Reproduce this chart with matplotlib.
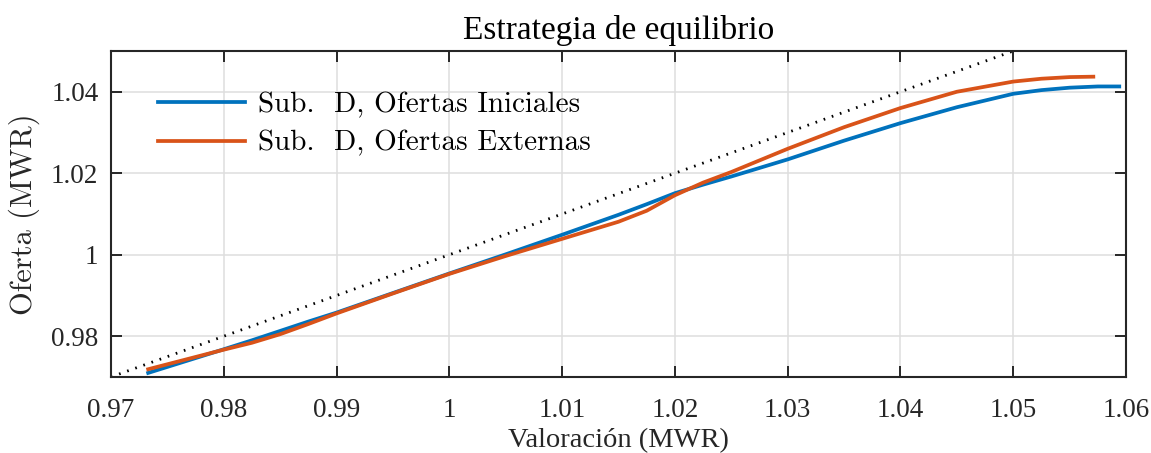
import matplotlib
matplotlib.use("Agg")
import matplotlib.pyplot as plt

# blue: Sub. D, Ofertas Iniciales
x_ini = [0.9733, 0.98, 0.9825, 0.985, 0.9875, 0.99, 0.995, 1.00, 1.005, 1.01, 1.015,
         1.0175, 1.02, 1.0225, 1.025, 1.03, 1.035, 1.04, 1.045, 1.05, 1.0525, 1.055,
         1.0575, 1.0594]
y_ini = [0.9710, 0.9768, 0.9790, 0.9813, 0.9836, 0.9858, 0.9906, 0.9954, 1.0001, 1.0049, 1.0098,
         1.0124, 1.0151, 1.0172, 1.0192, 1.0234, 1.0280, 1.0323, 1.0362, 1.0395, 1.0404, 1.0410,
         1.0413, 1.0413]

# orange: Sub. D, Ofertas Externas
x_ext = [0.9733, 0.98, 0.9825, 0.985, 0.9875, 0.99, 0.995, 1.00, 1.005, 1.01, 1.015,
         1.0175, 1.02, 1.0225, 1.025, 1.03, 1.035, 1.04, 1.045, 1.05, 1.0525, 1.055, 1.0571]
y_ext = [0.9719, 0.9767, 0.9784, 0.9805, 0.9830, 0.9856, 0.9905, 0.9953, 0.9997, 1.0039, 1.0081,
         1.0108, 1.0146, 1.0177, 1.0203, 1.0260, 1.0313, 1.0360, 1.0400, 1.0425, 1.0432, 1.0436,
         1.0437]

# 45 degree reference line
x_ref = [0.97, 1.05]
y_ref = [0.97, 1.05]

xticks = [0.97, 0.98, 0.99, 1.00, 1.01, 1.02, 1.03, 1.04, 1.05, 1.06]
xticklabels = ["0.97", "0.98", "0.99", "1", "1.01", "1.02", "1.03", "1.04", "1.05", "1.06"]
yticks = [0.98, 1.00, 1.02, 1.04]
yticklabels = ["0.98", "1", "1.02", "1.04"]

serif = "Liberation Serif"
cm = "cmr10"
dark = "#262626"

fig = plt.figure(figsize=(11.51, 4.53), dpi=100)
ax = fig.add_axes([0.0964, 0.1678, 0.8819, 0.7196])

l1, = ax.plot(x_ini, y_ini, color="#0072BD", lw=2.7, label="Sub.  D, Ofertas Iniciales")
l2, = ax.plot(x_ext, y_ext, color="#D95319", lw=2.7, label="Sub.  D, Ofertas Externas")
ax.plot(x_ref, y_ref, color="black", lw=2.0, linestyle=(0, (0.6, 2.5)))

ax.set_xlim(0.97, 1.06)
ax.set_ylim(0.97, 1.05)
ax.set_xticks(xticks)
ax.set_xticklabels(xticklabels, fontfamily=serif, fontsize=19.5)
ax.set_yticks(yticks)
ax.set_yticklabels(yticklabels, fontfamily=serif, fontsize=19.5)

ax.grid(True, color="#dedede", lw=1.1)
ax.set_axisbelow(True)
ax.tick_params(direction="in", length=8, width=1.4, color=dark, labelcolor=dark,
               top=True, right=True)
ax.tick_params(axis="x", pad=15)
ax.tick_params(axis="y", pad=9)
for s in ax.spines.values():
    s.set_color(dark)
    s.set_linewidth(1.5)

ax.set_title("Estrategia de equilibrio", fontfamily=serif, fontsize=24, pad=9)
ax.set_xlabel("Valoración (MWR)", fontfamily=serif, fontsize=20.5, color=dark, labelpad=4)
ax.set_ylabel("Oferta (MWR)", fontfamily=cm, fontsize=22, color=dark, labelpad=8)

leg = ax.legend(handles=[l1, l2], loc="upper left", bbox_to_anchor=(0.046, 0.875),
                frameon=False, borderpad=0, borderaxespad=0,
                handlelength=3.0, handletextpad=0.45, labelspacing=0.42,
                prop={"family": cm, "size": 21})

fig.savefig("out.png", dpi=100)
